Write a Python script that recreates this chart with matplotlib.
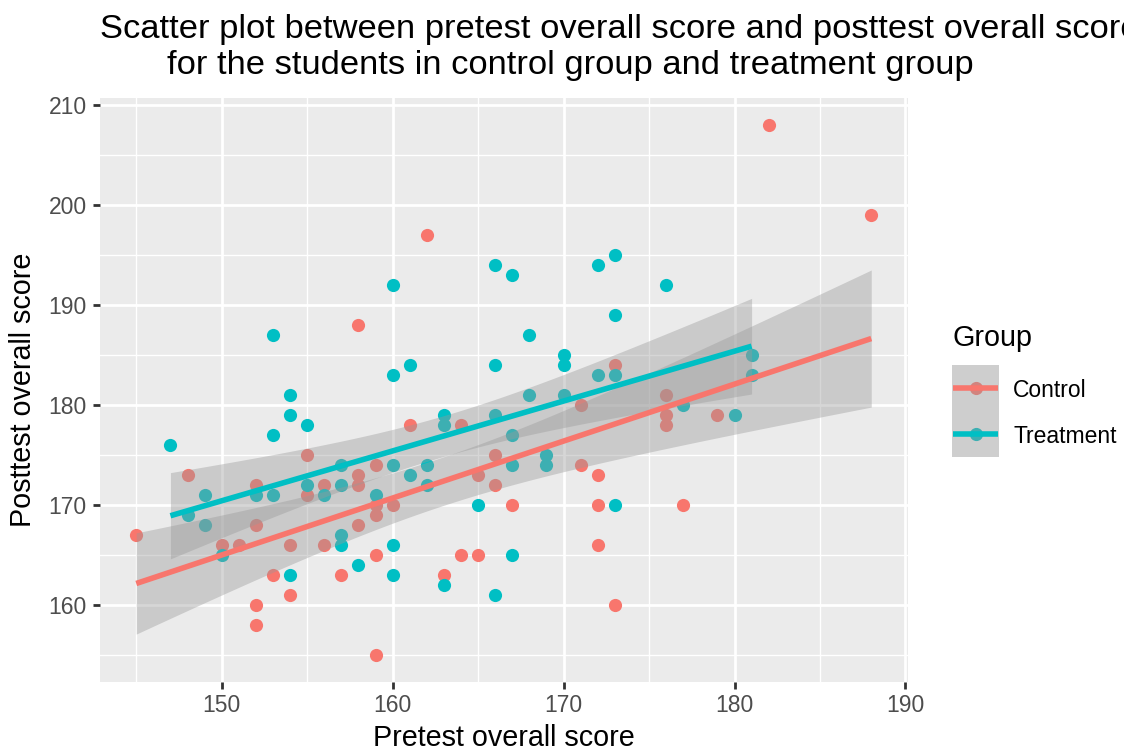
import numpy as np
import matplotlib.pyplot as plt

plt.rcParams['font.family'] = ['Liberation Sans', 'DejaVu Sans']

# pretest / posttest overall scores per group
control_pre = [145, 148, 150, 151, 152, 152, 152, 152, 153, 154, 154, 155, 155,
               156, 156, 157, 158, 158, 158, 158, 159, 159, 159, 159, 159, 160,
               161, 162, 163, 164, 164, 165, 165, 166, 166, 167, 171, 171, 172,
               172, 172, 173, 173, 176, 176, 176, 177, 179, 182, 188]
control_post = [167, 173, 166, 166, 172, 168, 160, 158, 163, 166, 161, 175, 171,
                172, 166, 163, 188, 173, 172, 168, 174, 170, 169, 165, 155, 170,
                178, 197, 163, 178, 165, 173, 165, 175, 172, 170, 180, 174, 173,
                170, 166, 184, 160, 181, 179, 178, 170, 179, 208, 199]

treat_pre = [147, 148, 149, 149, 150, 152, 153, 153, 153, 154, 154, 154, 155,
             155, 156, 157, 157, 157, 157, 158, 159, 160, 160, 160, 160, 160,
             161, 161, 162, 162, 163, 163, 163, 165, 166, 166, 166, 166, 167,
             167, 167, 167, 168, 168, 169, 169, 170, 170, 170, 172, 172, 173,
             173, 173, 173, 176, 177, 180, 181, 181]
treat_post = [176, 169, 171, 168, 165, 171, 187, 177, 171, 181, 179, 163, 178,
              172, 171, 174, 172, 167, 166, 164, 171, 192, 183, 174, 166, 163,
              184, 173, 174, 172, 179, 178, 162, 170, 194, 184, 179, 161, 193,
              177, 174, 165, 187, 181, 175, 174, 185, 184, 181, 194, 183, 195,
              189, 183, 170, 192, 180, 179, 185, 183]

groups = ['Control', 'Treatment']
colors = ['#F8766D', '#00BFC4']
data = [(control_pre, control_post), (treat_pre, treat_post)]

x_ticks = [150, 160, 170, 180, 190]
y_ticks = [160, 170, 180, 190, 200, 210]

title_lines = ['Scatter plot between pretest overall score and posttest overall score',
               'for the students in control group and treatment group']


def t_quantile(df, z=1.959964):
    # Cornish-Fisher expansion of the Student t 97.5% quantile
    return (z + (z**3 + z) / (4 * df)
            + (5 * z**5 + 16 * z**3 + 3 * z) / (96 * df**2))


def lm_fit(x, y, n=80):
    x = np.asarray(x, float)
    y = np.asarray(y, float)
    b, a = np.polyfit(x, y, 1)
    resid = y - (a + b * x)
    df = len(x) - 2
    s = np.sqrt(np.sum(resid**2) / df)
    sxx = np.sum((x - x.mean())**2)
    xs = np.linspace(x.min(), x.max(), n)
    fit = a + b * xs
    se = s * np.sqrt(1 / len(x) + (xs - x.mean())**2 / sxx)
    tq = t_quantile(df)
    return xs, fit, fit - tq * se, fit + tq * se


fig = plt.figure(figsize=(11.24, 7.49), dpi=100)
ax = fig.add_axes([99.5 / 1124, 1 - 681.5 / 749, 808.5 / 1124, 583.5 / 749])
ax.set_facecolor('#EBEBEB')

# points first, ribbons over them, lines on top
for (xv, yv), col in zip(data, colors):
    ax.scatter(xv, yv, s=90, color=col, linewidths=0, zorder=2)

fits = [lm_fit(xv, yv) for xv, yv in data]
for xs, fit, lo, hi in fits:
    ax.fill_between(xs, lo, hi, color='#999999', alpha=0.4, linewidth=0, zorder=3)
for (xs, fit, lo, hi), col in zip(fits, colors):
    ax.plot(xs, fit, color=col, lw=4, solid_capstyle='butt', zorder=4)

# ggplot-style expanded limits
xmin, xmax = min(control_pre + treat_pre), max(control_pre + treat_pre)
ymin, ymax = min(control_post + treat_post), max(control_post + treat_post)
ax.set_xlim(xmin - 0.05 * (xmax - xmin), xmax + 0.05 * (xmax - xmin))
ax.set_ylim(ymin - 0.05 * (ymax - ymin), ymax + 0.05 * (ymax - ymin))

ax.set_xticks(x_ticks)
ax.set_yticks(y_ticks)
ax.set_xticks([t + 5 for t in [140] + x_ticks[:-1]], minor=True)
ax.set_yticks([t + 5 for t in [150] + y_ticks[:-1]], minor=True)
ax.grid(which='major', color='white', lw=2.0, zorder=0)
ax.grid(which='minor', color='white', lw=1.0, zorder=0)
ax.set_axisbelow(True)
ax.tick_params(which='major', length=5.2, width=2.0, color='#333333',
               labelsize=16.5, labelcolor='#4D4D4D', pad=4)
ax.tick_params(which='minor', length=0)
for sp in ax.spines.values():
    sp.set_visible(False)

ax.set_xlabel('Pretest overall score', fontsize=20.7, labelpad=5)
ax.set_ylabel('Posttest overall score', fontsize=20.7, labelpad=8)

# two-line title: first line runs past the right edge
fig.text(100 / 1124, 1 - 38 / 749, title_lines[0], fontsize=24.8,
         ha='left', va='baseline')
fig.text(570 / 1124, 1 - 74 / 749, title_lines[1], fontsize=24.8,
         ha='center', va='baseline')

# legend
fig.text(953 / 1124, 1 - 338 / 749, 'Group', fontsize=20.7, va='center')
lax = fig.add_axes([952 / 1124, 1 - 457 / 749, 47 / 1124, 92 / 749])
lax.set_xlim(0, 1)
lax.set_ylim(0, len(groups))
lax.axis('off')
lax.add_patch(plt.Rectangle((0, 0), 1, len(groups), color='#F2F2F2', zorder=0))
for i, (name, col) in enumerate(zip(groups, colors)):
    yk = len(groups) - i - 0.5
    lax.scatter([0.5], [yk], s=90, color=col, linewidths=0, zorder=1)
    lax.add_patch(plt.Rectangle((0, i), 1, 1, color='#999999', alpha=0.4,
                                lw=0, zorder=2))
    lax.plot([0.03, 0.97], [yk, yk], color=col, lw=4, solid_capstyle='butt',
             zorder=3)
    lax.text(1.3, yk - 0.06, name, fontsize=16.5, va='center', ha='left',
             clip_on=False)

fig.savefig('out.png', dpi=100)
